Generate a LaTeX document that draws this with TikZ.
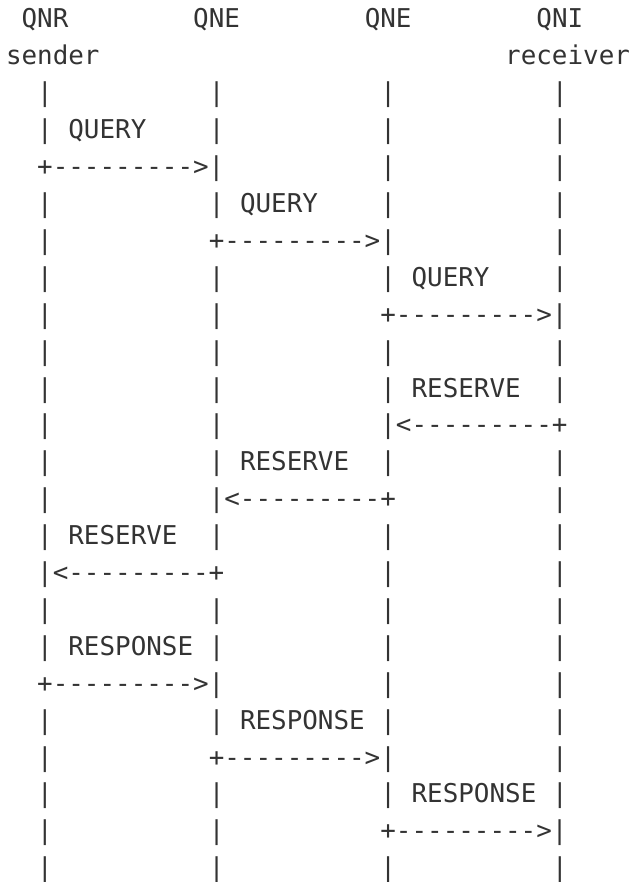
\documentclass[tikz,border=0pt]{standalone}
\usepackage{fontspec}
\newfontfamily\monofam{DejaVu Sans Mono}
\definecolor{ink}{HTML}{333333}
\newcommand\dashes{-\kern0pt-\kern0pt-\kern0pt-\kern0pt-\kern0pt-\kern0pt-\kern0pt-\kern0pt-}
\newcommand\rarr{+\dashes>|}
\newcommand\larr{|<\dashes+}
\begin{document}
\begin{tikzpicture}[x=1pt,y=-1pt,
  txt/.style={anchor=base west, inner sep=0pt, outer sep=0pt,
    font=\monofam\fontsize{25.9}{30}\selectfont, text=ink}]
\useasboundingbox (0,0) rectangle (631,882);
\newcommand\tok[4]{\node[txt] (#1) at ({6+#2*15.6},{28+(#3-1)*36.9}) {#4};}
% header
\tok{h1}{1}{1}{QNR}
\tok{h2}{12}{1}{QNE}
\tok{h3}{23}{1}{QNE}
\tok{h4}{34}{1}{QNI}
\tok{s1}{0}{2}{sender}
\tok{s4}{32}{2}{receiver}
% lifeline pipes
\foreach \ln/\cols in {3/{2,13,24,35},4/{2,13,24,35},5/{24,35},6/{2,13,24,35},
  7/{2,35},8/{2,13,24,35},9/{2,13},10/{2,13,24,35},11/{2,13,24,35},12/{2,13},
  13/{2,13,24,35},14/{2,35},15/{2,13,24,35},16/{24,35},17/{2,13,24,35},
  18/{2,13,24,35},19/{24,35},20/{2,13,24,35},21/{2,35},22/{2,13,24,35},
  23/{2,13},24/{2,13,24,35}}{
  \foreach \c in \cols {\tok{p\ln-\c}{\c}{\ln}{|}}
}
% messages
\tok{m1}{4}{4}{QUERY}
\tok{a1}{2}{5}{\rarr}
\tok{m2}{15}{6}{QUERY}
\tok{a2}{13}{7}{\rarr}
\tok{m3}{26}{8}{QUERY}
\tok{a3}{24}{9}{\rarr}
\tok{m4}{26}{11}{RESERVE}
\tok{a4}{24}{12}{\larr}
\tok{m5}{15}{13}{RESERVE}
\tok{a5}{13}{14}{\larr}
\tok{m6}{4}{15}{RESERVE}
\tok{a6}{2}{16}{\larr}
\tok{m7}{4}{18}{RESPONSE}
\tok{a7}{2}{19}{\rarr}
\tok{m8}{15}{20}{RESPONSE}
\tok{a8}{13}{21}{\rarr}
\tok{m9}{26}{22}{RESPONSE}
\tok{a9}{24}{23}{\rarr}
\end{tikzpicture}
\end{document}
